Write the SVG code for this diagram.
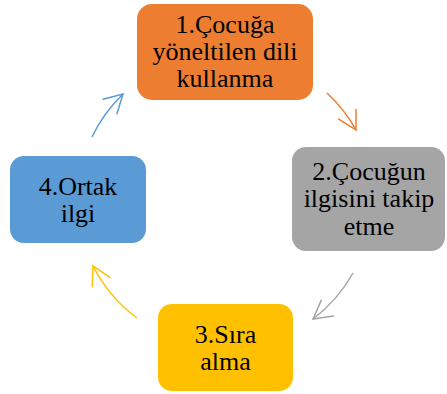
<svg xmlns="http://www.w3.org/2000/svg" width="447" height="394" viewBox="0 0 447 394">
  <style>
    .box { stroke: none; }
    .lbl { font-family: 'Liberation Serif', 'Times New Roman', serif; font-size: 26px; fill: #000; text-anchor: middle; }
    .arc { fill: none; stroke-width: 1.5; }
    .head { fill: none; stroke-width: 1.5; stroke-linecap: round; stroke-linejoin: miter; }
  </style>
  <defs>
    <marker id="hOrange" markerUnits="userSpaceOnUse" orient="auto" markerWidth="30" markerHeight="30" refX="0" refY="0" viewBox="-22 -15 24 30" overflow="visible">
      <path class="head" d="M -18 -10 L 0 0 L -18 10" stroke="#ED7D31"/>
    </marker>
    <marker id="hGray" markerUnits="userSpaceOnUse" orient="auto" markerWidth="30" markerHeight="30" refX="0" refY="0" viewBox="-22 -15 24 30" overflow="visible">
      <path class="head" d="M -18 -10 L 0 0 L -18 10" stroke="#A5A5A5"/>
    </marker>
    <marker id="hYellow" markerUnits="userSpaceOnUse" orient="auto" markerWidth="30" markerHeight="30" refX="0" refY="0" viewBox="-22 -15 24 30" overflow="visible">
      <path class="head" d="M -18 -10 L 0 0 L -18 10" stroke="#FFC000"/>
    </marker>
    <marker id="hBlue" markerUnits="userSpaceOnUse" orient="auto" markerWidth="30" markerHeight="30" refX="0" refY="0" viewBox="-22 -15 24 30" overflow="visible">
      <path class="head" d="M -18 -10 L 0 0 L -18 10" stroke="#5B9BD5"/>
    </marker>
  </defs>

  <!-- curved connectors on a circle around (225,200) -->
  <g id="connectors">
    <path class="arc" stroke="#ED7D31" d="M 327 93 A 148 148 0 0 1 356 130" marker-end="url(#hOrange)"/>
    <path class="arc" stroke="#A5A5A5" d="M 353 273 A 148 148 0 0 1 313 319" marker-end="url(#hGray)"/>
    <path class="arc" stroke="#FFC000" d="M 137 318 A 148 148 0 0 1 93 266" marker-end="url(#hYellow)"/>
    <path class="arc" stroke="#5B9BD5" d="M 92 137 A 148 148 0 0 1 123 94" marker-end="url(#hBlue)"/>
  </g>

  <g id="node1">
    <rect class="box" x="137" y="4" width="176" height="96" rx="15" fill="#ED7D31"/>
    <text class="lbl" x="225" y="33">1.Çocuğa</text>
    <text class="lbl" x="225" y="60">yöneltilen dili</text>
    <text class="lbl" x="225" y="87">kullanma</text>
  </g>

  <g id="node2">
    <rect class="box" x="292" y="147" width="153" height="104" rx="14" fill="#A5A5A5"/>
    <text class="lbl" x="369" y="180">2.Çocuğun</text>
    <text class="lbl" x="369" y="207">ilgisini takip</text>
    <text class="lbl" x="369" y="235">etme</text>
  </g>

  <g id="node3">
    <rect class="box" x="158" y="304" width="135" height="87" rx="14" fill="#FFC000"/>
    <text class="lbl" x="225.5" y="343">3.Sıra</text>
    <text class="lbl" x="225.5" y="370">alma</text>
  </g>

  <g id="node4">
    <rect class="box" x="10" y="156" width="136" height="87" rx="14" fill="#5B9BD5"/>
    <text class="lbl" x="78" y="195">4.Ortak</text>
    <text class="lbl" x="78" y="222">ilgi</text>
  </g>
</svg>
